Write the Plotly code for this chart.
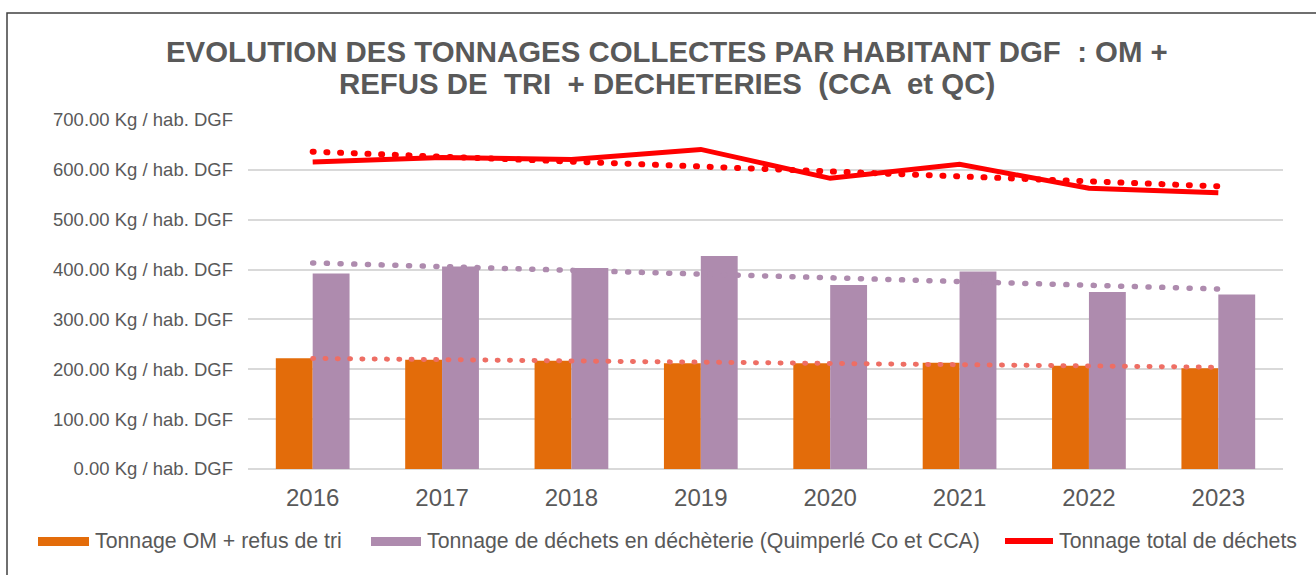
import numpy as np
import plotly.graph_objects as go

# ---------------- data ----------------
years = ["2016", "2017", "2018", "2019", "2020", "2021", "2022", "2023"]
om_refus = [222, 219, 217, 212, 212, 213, 207, 202]
decheterie = [392, 406, 403, 427, 369, 396, 355, 350]
total = [616, 625, 621, 641, 583, 611, 563, 554]

y_ticks = [0, 100, 200, 300, 400, 500, 600, 700]
y_tick_labels = [f"{v:.2f} Kg / hab. DGF" for v in y_ticks]

title_line1 = "EVOLUTION DES TONNAGES COLLECTES PAR HABITANT DGF \u00a0: OM +"
title_line2 = "REFUS DE \u00a0TRI \u00a0+ DECHETERIES \u00a0(CCA \u00a0et QC)"
legend_labels = ["Tonnage OM + refus de tri",
                 "Tonnage de déchets en déchèterie (Quimperlé Co et CCA)",
                 "Tonnage total de déchets"]

# ---------------- styles ----------------
C_ORANGE = "#E36C0A"
C_PURPLE = "#AE8BAE"
C_RED = "#FF0000"
C_ORANGE_TREND = "#EE6E64"
C_TEXT = "#595959"
C_GRID = "#D9D9D9"
FONT = "Liberation Sans, Arial, sans-serif"

W, H = 1316, 575
L, R, T, B = 248, 33, 120, 106
PW, PH = W - L - R, H - T - B


def px(xpix):
    return (xpix - L) / PW


def py(ypix):
    return (H - B - ypix) / PH


def trend(vals):
    x = np.arange(len(vals))
    coef = np.polyfit(x, np.asarray(vals, dtype=float), 1)
    return np.polyval(coef, x)


fig = go.Figure()
fig.add_trace(go.Bar(x=years, y=om_refus, name=legend_labels[0],
                     marker=dict(color=C_ORANGE, line=dict(width=0))))
fig.add_trace(go.Bar(x=years, y=decheterie, name=legend_labels[1],
                     marker=dict(color=C_PURPLE, line=dict(width=0))))

# trendlines (linear regression of each series), round dotted
fig.add_trace(go.Scatter(x=years, y=trend(om_refus), mode="lines",
                         line=dict(color=C_ORANGE_TREND, width=5, dash="1px,11.3px"),
                         hoverinfo="skip", showlegend=False))
fig.add_trace(go.Scatter(x=years, y=trend(decheterie), mode="lines",
                         line=dict(color=C_PURPLE, width=5.5, dash="1px,12.7px"),
                         hoverinfo="skip", showlegend=False))
fig.add_trace(go.Scatter(x=years, y=trend(total), mode="lines",
                         line=dict(color=C_RED, width=6, dash="1px,12.7px"),
                         hoverinfo="skip", showlegend=False))

fig.add_trace(go.Scatter(x=years, y=total, mode="lines", name=legend_labels[2],
                         line=dict(color=C_RED, width=5)))

annotations = [
    dict(text="<b>" + title_line1 + "</b>", x=px(667), y=py(52), xref="paper", yref="paper",
         xanchor="center", yanchor="middle", showarrow=False,
         font=dict(family=FONT, size=29.4, color=C_TEXT)),
    dict(text="<b>" + title_line2 + "</b>", x=px(667), y=py(83), xref="paper", yref="paper",
         xanchor="center", yanchor="middle", showarrow=False,
         font=dict(family=FONT, size=29.4, color=C_TEXT)),
]

legend_text_x = [93, 425, 1057]
for lx, lab in zip(legend_text_x, legend_labels):
    annotations.append(dict(text=lab, x=px(lx), y=py(541), xref="paper", yref="paper",
                            xanchor="left", yanchor="middle", showarrow=False,
                            font=dict(family=FONT, size=21.3, color=C_TEXT)))

shapes = [
    # chart border
    dict(type="rect", xref="paper", yref="paper", x0=px(7), x1=px(1330), y0=py(600), y1=py(13),
         line=dict(color="#404040", width=1.5), fillcolor="rgba(0,0,0,0)", layer="below"),
    # legend swatches
    dict(type="rect", xref="paper", yref="paper", x0=px(38), x1=px(89), y0=py(546), y1=py(537),
         fillcolor=C_ORANGE, line=dict(width=0)),
    dict(type="rect", xref="paper", yref="paper", x0=px(371), x1=px(421), y0=py(546), y1=py(537),
         fillcolor=C_PURPLE, line=dict(width=0)),
    dict(type="line", xref="paper", yref="paper", x0=px(1005), x1=px(1053), y0=py(541), y1=py(541),
         line=dict(color=C_RED, width=6)),
]

fig.update_layout(
    width=W, height=H,
    margin=dict(l=L, r=R, t=T, b=B, autoexpand=False),
    paper_bgcolor="white", plot_bgcolor="white",
    barmode="group", bargap=0.43, bargroupgap=0,
    showlegend=False,
    font=dict(family=FONT, color=C_TEXT),
    annotations=annotations,
    shapes=shapes,
    xaxis=dict(showgrid=False, showline=False, zeroline=False,
               tickfont=dict(family=FONT, size=24, color=C_TEXT),
               ticklabelstandoff=12, automargin=False),
    yaxis=dict(range=[0, 700], tickmode="array", tickvals=y_ticks, ticktext=y_tick_labels,
               showgrid=True, gridcolor=C_GRID, gridwidth=1.5,
               zeroline=True, zerolinecolor=C_GRID, zerolinewidth=1.5, showline=False,
               tickfont=dict(family=FONT, size=18.5, color=C_TEXT),
               ticklabelstandoff=14, automargin=False),
)

post = (
    "document.body.style.margin='0';document.body.style.padding='0';"
    "document.querySelectorAll('path.js-line').forEach(function(p){"
    "var d=p.style.strokeDasharray||'';"
    "if(d && d!=='none'){p.style.strokeLinecap='round';}"
    "});"
)

fig.write_html("out.html", config={"displayModeBar": False}, post_script=post)
